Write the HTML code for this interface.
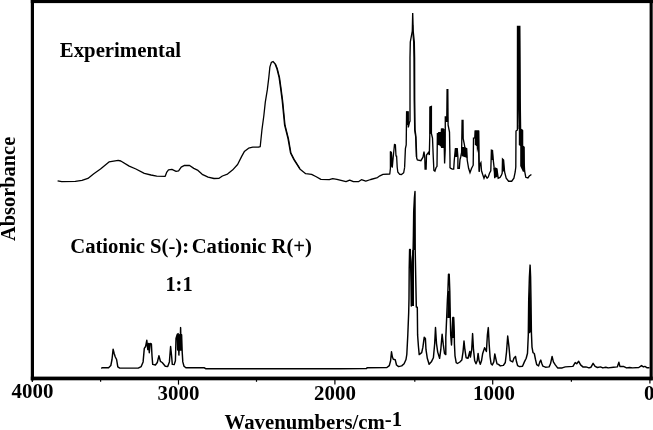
<!DOCTYPE html>
<html><head><meta charset="utf-8"><title>IR spectra</title>
<style>
html,body{margin:0;padding:0;background:#fff;}
svg{display:block;}
text{font-family:"Liberation Serif","Times New Roman",serif;font-weight:bold;fill:#000;}
</style></head><body>
<svg width="653" height="430" viewBox="0 0 653 430">
<rect width="653" height="430" fill="#fff"/>
<!-- frame -->
<rect x="30.8" y="0" width="622.2" height="3.1" fill="#000"/>
<rect x="30.8" y="0" width="3.2" height="380.3" fill="#000"/>
<rect x="649.6" y="0" width="3.1" height="380.3" fill="#000"/>
<rect x="30.8" y="376.6" width="621.9" height="3.7" fill="#000"/>
<!-- ticks -->
<g stroke="#000" stroke-width="1.2">
<line x1="32.3" y1="378" x2="32.3" y2="382"/>
<line x1="178.5" y1="378" x2="178.5" y2="384.6"/>
<line x1="334.9" y1="378" x2="334.9" y2="384.6"/>
<line x1="492.7" y1="378" x2="492.7" y2="384.6"/>
<line x1="649.9" y1="378" x2="649.9" y2="383.5"/>
<line x1="100.6" y1="378" x2="100.6" y2="381.8"/>
<line x1="256.5" y1="378" x2="256.5" y2="381.8"/>
<line x1="414.8" y1="378" x2="414.8" y2="381.8"/>
<line x1="571.4" y1="378" x2="571.4" y2="381.8"/>
</g>
<!-- spectra -->
<polyline fill="none" stroke="#000" stroke-width="1.3" stroke-linejoin="round" points="57.6,180.8 61.8,181.6 75.3,181.4 82,180.4 87.9,178.4 93.8,173.7 100.5,169 109,161.9 118.2,160.4 120.8,161 129.2,166.1 135.9,169 144.3,173.4 151,175 156.7,176.2 165.2,176.3 166.8,172.1 168.5,169.8 171.9,169.4 176.1,171.3 178.6,170.9 181.2,167.1 184.5,165.4 189.6,165.5 193.8,168.4 198,170.4 202.2,174.3 208.1,177.2 214,178.5 219.1,178.3 222.4,176 227.5,174.1 232.5,170.1 237.6,164.5 241.8,156.1 244.3,151.6 248.6,148.2 252.8,147.2 258.7,147 260.2,146.7 261.9,130.2 263.8,116 265.3,102.1 267.3,89.9 268.8,77.6 269.9,66.9 271.4,62.3 273,61.5 275,63.8 276.8,68.4 279.1,77.6 280.6,88.3 282.2,100.6 283.7,116 284.6,125.2 288,138.6 290.5,153 293.9,159.7 299.8,169 305.7,173.7 311.6,174.4 315.8,176.5 320.9,179.4 329.3,179.6 332.7,178.6 336.9,179.4 341,180.4 346,181.7 349.7,180.1 353.4,181.7 358.4,181.7 361.4,179.7 365.8,181.1 370.7,179.5 377.5,177.6 379.9,175.8 383,174.3 389.8,174 390.4,168.4 390.4,151.7 391.4,152.3 392.3,167.1 393.1,158.5 394.5,144.3 395.4,144.9 396,156 396.6,156 397.2,167.1 397.8,172 399.7,174.3 401.5,174.5 403.7,172.7 404.6,167.7"/>
<polyline fill="none" stroke="#000" stroke-width="1.1" stroke-linejoin="round" points="275.4,63.8 277.3,68.4 279.6,77.6 281.1,88.3 282.7,100.6 284.2,116 285.1,125.2 288.5,138.6 291,153 294.3,159.5 300,168.6"/>
<polyline fill="none" stroke="#000" stroke-width="1.35" stroke-linejoin="miter" points="404.6,167.7 405.4,148.6 406.2,145 406.6,112 408.1,112 408.3,127.4 409.4,122.5 410,121 410,58 410.3,42 412.3,31 412.7,13 413.2,31 414.3,42 414.6,58 414.7,100 415.1,130 416,137 416.7,158 417.4,160 420.9,160.7 423,157.2 424,151.6 424.8,157.9 425.1,169.1 426.1,169.1 426.5,155.1 428.6,152.3 429.3,155.1 429.8,135 430,107 431.4,106.5 431.4,133.5 432.5,138 433.3,158 433.9,170.5 434.9,171.2 436,167.7 437,166.3 437.4,133 438.2,145 438.8,132 439.5,145.5 440.2,132 440.8,146 441.5,128.5 442.1,148 442.7,128.4 443.3,147 443.8,129 444.3,150 444.6,163.5 445.2,150 445.3,117 446.8,117 447.1,89.7 447.8,89.7 448.1,125 449.5,132 450,160 450,167.7 450.9,168.4 452.3,169.1 453.7,169.1 454.3,160 455.4,148.2 456.3,157 457.2,148.2 457.9,157 457.9,168.4 459.3,168.4 460,159.7 460.7,157 461.6,152.5 462.1,120.5 463,120.5 463.2,138.6 464.2,143.5 464.9,147.9 466.7,148.8 467.2,160 468.6,168.3 470,172.6 471.6,168.3 473.2,165.2 473.5,138.2 474.8,138 475.2,131 476.3,131 476.4,146 476.9,131 478.6,131 478.8,153.5 479.2,172 479.8,164.6 480.9,162.7 481.5,170.8 482.7,174.5 484,178.2 485.2,175.1 487.1,178.2 488.3,176.9 489.5,173.2 490.8,170.8 491.4,150.2 492.5,150.5 493.2,159.7 494.2,168.3 494.7,178.2 495.7,168.3 496.9,168.9 498.2,178.2 500,177.5 501.4,175.1 502.2,173.2 502.5,159 503.6,160 504.6,172 506.2,178.2 508.6,181.2 511.7,181.2 513.9,178.2 515.2,172 515.8,167 516,131 517.4,130 517.5,26.3 519.8,26.3 520.2,99 520.6,129 522.6,130.5 522.6,146 524,147 524.2,163 524.6,171 525.8,177.3 527.9,178 529.3,176 531.4,174.5"/>
<polyline fill="none" stroke="#000" stroke-width="1.45" stroke-linejoin="round" points="101.2,368.3 102.4,367.7 108.6,367.7 110.8,365.6 112,359.5 113.1,349.3 114.1,353.3 115.3,357 116.6,359.5 117.8,366.9 119.7,368.1 138.2,368.1 141.2,366.6 143.1,361.9 144.3,348.4 145.6,346.5 146.8,340.3 147.8,349.6 148.6,343.4 149.3,352.7 150.1,343.4 151.4,344 152,355.8 152.7,364.4 155.4,365 157.3,362.5 158.9,355.8 160.4,361.3 162.2,362.5 165.3,366.2 167.7,366.6 169.4,361.9 170.6,346.5 171.6,356 172.3,364.4 174.2,364.6 175.4,360.7 176,338.5 177.3,334.2 177.7,350 178.2,333.6 178.9,355.1 179.7,334.8 180.1,350 180.6,327.6 181.1,350 181.6,334.8 182.2,352.1 182.8,361.9 184,366.2 185.9,367.8 204.4,367.8 205.6,368.7 340,368.7 366.5,368.5 367.1,367.7 386.9,367.5 389.3,365.6 390.6,360.7 391.5,351.8 392.4,357 393.3,359.2 395.2,359.7 396.5,365 398.6,366.6 401.7,365.9 404.1,363.8 406,359.5 406.8,354.5 407.8,335 408.7,312.4 409,298.5 409.2,269 409.6,249.4 410.3,249.4 411,282 411.3,306 412.2,262 413.1,250 413.4,235 413.7,212 414.4,198 415,191.5 415.2,250 416.3,307 417.3,307.3 417.6,334.9 418.4,346 419.2,354.6 421.7,352.7 422.9,347.2 424.2,337.3 425.4,338.6 426,349.7 427.3,358.3 429.1,364.2 431.6,361.4 433.4,357.7 434.7,343.5 435.5,327.5 436.5,343.5 437.7,352.1 439.6,358.3 440.8,349.7 442.1,334.2 443.3,344.7 444.5,353.4 445.8,354.6 445.8,337.3 446.1,331 446.7,317 447.4,300 447.9,291 448.5,274.3 449.2,274.3 449.8,291 450.3,317 450.7,335 451.5,345 452.2,330 452.8,317.5 453.7,317.5 454.3,333 454.4,343.5 455,355.8 456.2,362.6 457.5,363.5 459.9,362 461.8,360.1 463,352.1 464,341 464.9,349.7 466.1,357.7 468,358.3 469.8,351.5 470.4,357.1 471.7,349.7 472.6,333.6 473.5,349.7 474.7,360.8 476,363.8 477.2,360.8 478.1,353.4 479.1,360.8 480.3,364.2 481.5,360.8 482.7,353.4 484.6,347.8 486.4,351.5 487.4,334.8 488.3,327.6 489.2,344.7 490.1,357 491.1,363.8 492.3,365 493.8,361.9 494.8,353.9 496,359.5 497,363.8 498.5,364.4 500.3,365.9 503.4,365.4 505.3,362.5 506.5,352.1 507.7,336 509,347.1 510.2,360.7 512.7,361.9 513.9,358.2 515.5,356.4 516.4,361.3 517.6,365.6 519.5,366.6 522.5,366.2 524.4,361.9 526.2,358.2 527.5,353.3 528.3,334.8 528.7,300 529.4,277 530.1,265.1 530.6,277 531,300 531.4,332.3 532,347.1 533,352.7 534.3,353.5 535.5,359.5 536.7,364.6 538.6,365.9 539.8,361.9 540.8,360.1 541.7,363.2 542.9,366.2 545.4,367.2 549.1,366.9 550.5,363.8 552.1,356.4 553.4,361.9 555.3,364.9 557.6,367.9 562.2,367.9 565.3,366.9 572.9,366.4 575.2,362.6 576.7,363.8 578.7,361.3 580.6,364.9 582.9,366.9 585.9,366.9 589,367.9 591,367.2 593.1,363.3 595.1,366.4 597.4,367.5 600.5,366.9 602.8,367.9 605.8,367.2 608.1,367.9 613.5,367.2 617.3,366.9 618.9,362.3 619.9,366.4 623.4,366.4 626.5,367.9 629.6,367.5 632.6,367.9 638.8,367.5 641.5,365.6 643.4,366.9 644.9,366.4 647.2,367.8 649.5,367.8"/>
<!-- thick parts -->
<g fill="#000">
<polygon points="517.3,26.1 520,26.1 520.4,99 520.8,129 518.6,129 518.4,109.5 518.1,129 517.3,129"/>
<polygon points="518.8,125 521,125 521,129 523,130 523,146 524.4,147 524.6,163 525,171 523,172 520.2,166 520.2,146 518.8,145"/>
<polygon points="406.2,111.4 408.6,111.4 408.6,126 407.8,125 406.2,125"/>
<polygon points="429.6,107 431.8,106.3 431.8,133.5 429.6,134"/>
<polygon points="437.4,133 441.2,132 441.3,128.5 444,128.5 444,148 441.2,148 440,145 437.6,145"/>
<polygon points="445.3,117 448.1,117 448.1,122 445.3,122"/>
<polygon points="455,148 457.6,148 457.6,157 455,157"/>
<polygon points="461.8,147 464.5,147 466.8,148.5 467.3,158 461.5,156"/>
<polygon points="474.8,131 479,131 479,145 477,153 476.6,145 474.8,145"/>
<polygon points="491,150.2 492.9,150.5 493.4,160 491,160"/>
<polygon points="502.4,159.2 503.7,160 504.5,171 502.3,172"/>
<polygon points="493.4,168 497.1,168.6 497.8,177 494.8,177.5 494,172"/>
<polygon points="477.6,131 479.2,131 479.5,153 479.9,170 478.7,171 478.2,153"/>
<polyline fill="none" stroke="#000" stroke-width="1.1" points="412.7,25 412.8,33 413.6,42 413.9,58 414.1,100 414.6,130 415.6,137 416.3,157"/>
</g>
<polygon points="413.1,250 413.7,212 414.8,193 415.2,250 414,250 414,306 411.4,306 411.4,264 412.3,250" fill="#000"/>
<polygon points="448,291 449.8,291 450.2,318 447.2,318" fill="#000"/>
<polygon points="452.6,318 454,318 454.5,338 452,338" fill="#000"/>
<polygon points="530.1,267 530.9,300 531.2,332 528.4,334 528.8,300" fill="#000"/>
<polygon points="390.2,152 392,152.6 392.5,166 390.3,168" fill="#000"/>
<!-- labels -->
<text x="32.5" y="398" font-size="20.9" text-anchor="middle">4000</text>
<text x="178.5" y="400" font-size="20.9" text-anchor="middle">3000</text>
<text x="335" y="400" font-size="20.9" text-anchor="middle">2000</text>
<text x="494" y="400" font-size="20.9" text-anchor="middle">1000</text>
<text x="649.2" y="400" font-size="20.9" text-anchor="middle">0</text>
<text x="224.6" y="428.7" font-size="20.75">Wavenumbers/cm<tspan dy="-3.2">-1</tspan></text>
<text x="59.8" y="56.5" font-size="20.8">Experimental</text>
<text x="70.2" y="252.6" font-size="20.7">Cationic S(-):<tspan dx="2.5">Cationic R(+)</tspan></text>
<text x="165.4" y="290.5" font-size="20.4">1:1</text>
<text transform="translate(14.8,241) rotate(-90)" font-size="20.4">Absorbance</text>
</svg>
</body></html>
